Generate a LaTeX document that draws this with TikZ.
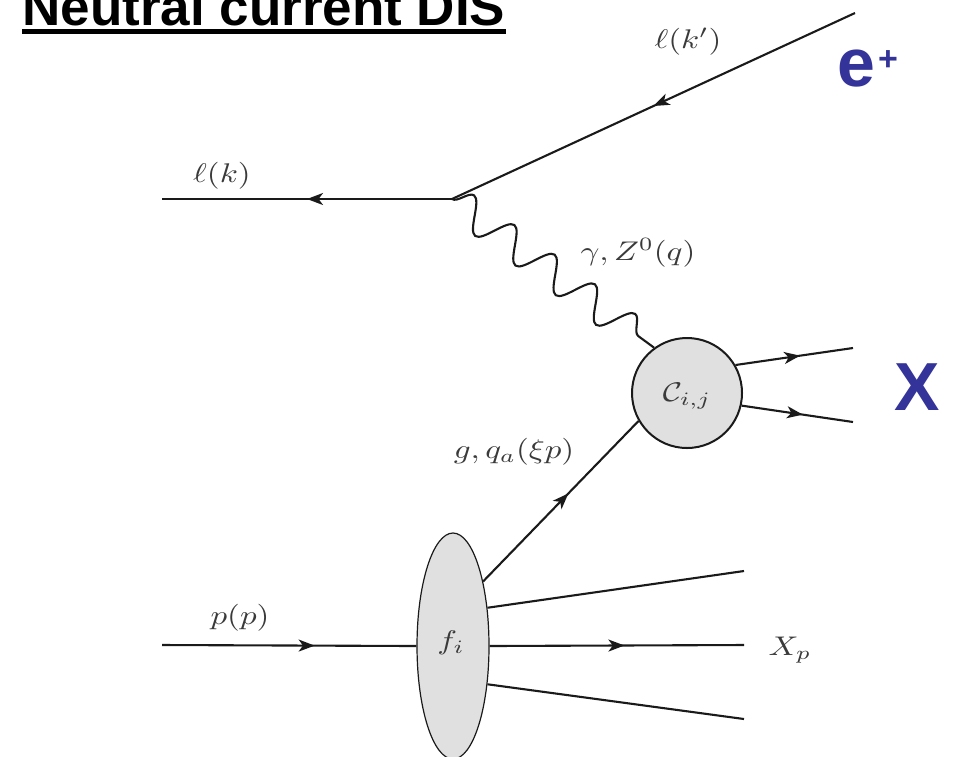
\documentclass[tikz,border=0pt]{standalone}
\usepackage{fontspec}
\newfontfamily\arialfont{Liberation Sans}
\usetikzlibrary{arrows.meta,decorations.markings,decorations.pathmorphing,shapes.geometric}
\definecolor{eblue}{HTML}{333399}
\definecolor{blobgray}{HTML}{E0E0E0}
\definecolor{linecol}{HTML}{1A1A1A}
\definecolor{labcol}{HTML}{3A3A3A}
\newcommand{\lab}[1]{\scalebox{1.65}[1.35]{$#1$}}
\tikzset{
  plainline/.style={draw=linecol, line width=1.05pt},
  fermion/.style={plainline, postaction={decorate},
    decoration={markings, mark=at position #1 with {\arrow{Stealth[length=8pt,width=6pt,inset=2.2pt]}}}},
  fermion/.default=0.55,
  photon/.style={plainline, decorate, decoration={snake, segment length=25pt, amplitude=8pt}},
  blob/.style={circle, draw=linecol, line width=1pt, fill=blobgray, minimum size=55pt, inner sep=0pt},
  pdf/.style={ellipse, draw=linecol, line width=0.6pt, fill=blobgray, minimum width=36pt, minimum height=113pt, inner sep=0pt},
  label/.style={text=labcol, inner sep=0pt, anchor=base},
  bigtext/.style={text=eblue, inner sep=0pt, anchor=base west, font=\arialfont\bfseries\fontsize{34}{40}\selectfont}
}
\begin{document}
\begin{tikzpicture}[x=0.5pt, y=-0.5pt]
\useasboundingbox (0,0) rectangle (956,756);
% title
\node[inner sep=0pt, anchor=base west, font=\arialfont\bfseries\fontsize{26.5}{30}\selectfont] (title) at (22,25) {Neutral current DIS};
\draw[line width=2.5pt] ([yshift=-3.25pt]title.base west) -- ([yshift=-3.25pt]title.base east);
% coordinates
\coordinate (v1) at (452,199);
\coordinate (lk) at (162,199);
\coordinate (lkp) at (855,13);
\coordinate (x1) at (853,348);
\coordinate (x2) at (853,422);
\coordinate (pin) at (162,645);
\coordinate (r1) at (744,571);
\coordinate (r2) at (744,645);
\coordinate (r3) at (744,719);
% blobs
\node[blob] (C) at (687,393) {};
\node[pdf] (F) at (453,646) {};
% lines
\draw[fermion=0.5] (lkp) -- (v1);
\draw[fermion=0.5] (v1) -- (lk);
\draw[photon] (v1) -- (C.126);
\draw[fermion=0.55] (C.30) -- (x1);
\draw[fermion=0.55] (C.-13) -- (x2);
\draw[fermion=0.55] (F.65) -- (C.210);
\draw[fermion=0.6] (pin) -- (F.west);
\draw[plainline] (F.48) -- (r1);
\draw[fermion=0.53] (F.east) -- (r2);
\draw[plainline] (F.-48) -- (r3);
% labels
\node[text=labcol, inner sep=0pt] (Ct) at (687,396) {\lab{\mathcal{C}_{i,j}}};
\node[text=labcol, inner sep=0pt] (Ft) at (451,643) {\lab{f_i}};
\node[label] (lkl) at (222,182) {\lab{\ell(k)}};
\node[label] (lkpl) at (688,48) {\lab{\ell(k')}};
\node[label] (gl) at (638,260) {\lab{\gamma, Z^0(q)}};
\node[label] (ql) at (514,458) {\lab{g, q_a(\xi p)}};
\node[label] (pl) at (240,624) {\lab{p(p)}};
\node[label] (xpl) at (790,655) {\lab{X_p}};
\node[bigtext] (ep) at (837,86) {e\kern1.5pt\raisebox{8pt}{\fontsize{17}{20}\selectfont+}};
\node[bigtext] (xl) at (894,410) {X};
\end{tikzpicture}
\end{document}
